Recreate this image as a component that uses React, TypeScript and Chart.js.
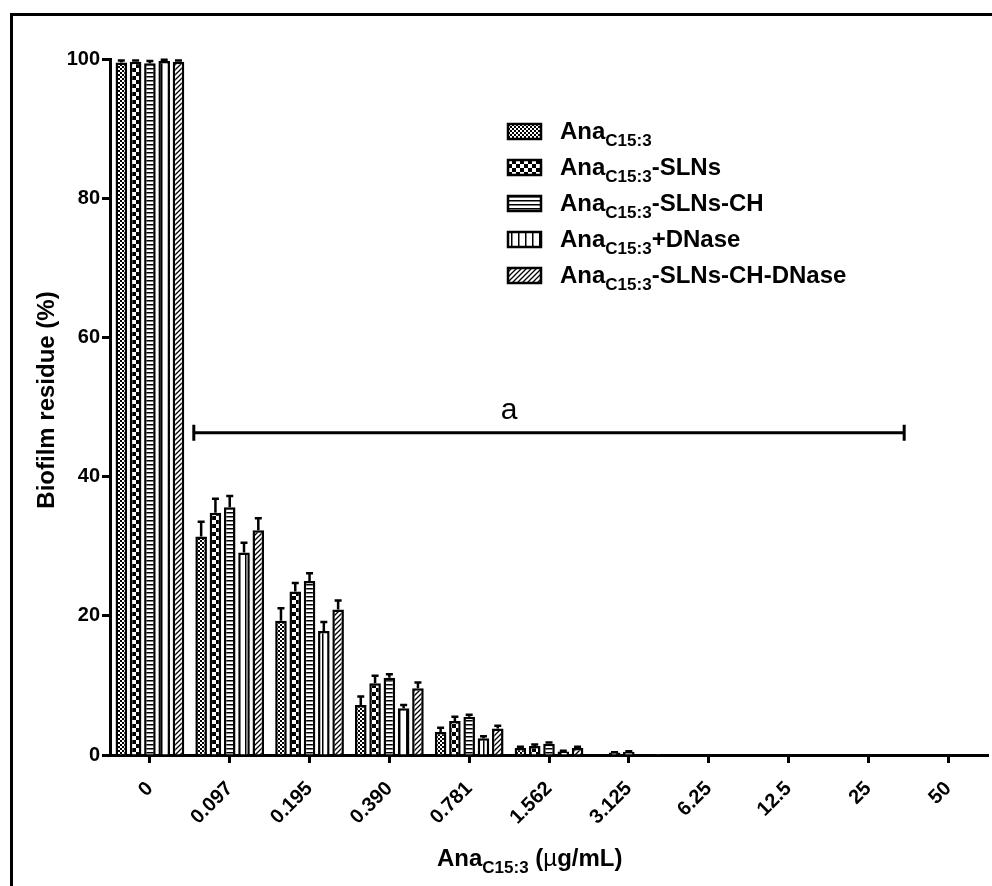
import { useEffect, useRef } from "react";
import { Chart, registerables } from "chart.js";

Chart.register(...registerables);

const FONT = "Arial, 'Liberation Sans', Helvetica, sans-serif";

// ---- data ----
const categories = ["0", "0.097", "0.195", "0.390", "0.781", "1.562", "3.125", "6.25", "12.5", "25", "50"];
const seriesPrefix = "Ana";
const seriesSub = "C15:3";
const seriesSuffixes = ["", "-SLNs", "-SLNs-CH", "+DNase", "-SLNs-CH-DNase"];

const anaC153 = [99.5, 31.4, 19.3, 7.2, 3.3, 1.0, 0.05, 0, 0, 0, 0];
const anaSLNs = [99.6, 34.8, 23.5, 10.3, 4.9, 1.3, 0.35, 0, 0, 0, 0];
const anaSLNsCH = [99.4, 35.6, 25.0, 11.1, 5.5, 1.6, 0.45, 0, 0, 0, 0];
const anaDNase = [99.7, 29.1, 17.8, 6.7, 2.4, 0.5, 0.05, 0, 0, 0, 0];
const anaSLNsCHDNase = [99.6, 32.3, 20.9, 9.6, 3.8, 1.0, 0.15, 0, 0, 0, 0];

const errC153 = [0.3, 2.1, 1.8, 1.2, 0.6, 0.2, 0, 0, 0, 0, 0];
const errSLNs = [0.2, 2.0, 1.2, 1.1, 0.6, 0.2, 0.05, 0, 0, 0, 0];
const errSLNsCH = [0.3, 1.6, 1.1, 0.5, 0.3, 0.2, 0.1, 0, 0, 0, 0];
const errDNase = [0.2, 1.4, 1.3, 0.5, 0.3, 0.1, 0, 0, 0, 0, 0];
const errSLNsCHDNase = [0.2, 1.7, 1.3, 0.8, 0.4, 0.2, 0, 0, 0, 0, 0];

const yTickValues = [0, 20, 40, 60, 80, 100];
const yTitle = "Biofilm residue (%)";
const xTitleParts = [
  { t: "Ana" },
  { t: "C15:3", sub: true },
  { t: " (" },
  { t: "\u00b5", thin: true },
  { t: "g/mL)" },
];
const bracketFrom = 0.55;
const bracketTo = 9.45;
const bracketValue = 46.3;
const bracketLabel = "a";
const bracketLabelAt = 4.5;

const seriesValues = [anaC153, anaSLNs, anaSLNsCH, anaDNase, anaSLNsCHDNase];
const seriesErrors = [errC153, errSLNs, errSLNsCH, errDNase, errSLNsCHDNase];
const patternKinds = ["fine", "checker", "hlines", "vlines", "diag"];

function makePattern(kind: string): CanvasPattern | string {
  const c = document.createElement("canvas");
  const ctx = c.getContext("2d");
  if (!ctx) return "#fff";
  if (kind === "fine") {
    c.width = 4; c.height = 4;
    ctx.fillStyle = "#fff"; ctx.fillRect(0, 0, 4, 4);
    ctx.fillStyle = "#000";
    ctx.fillRect(0, 0, 2, 2); ctx.fillRect(2, 2, 2, 2);
  } else if (kind === "checker") {
    c.width = 8; c.height = 8;
    ctx.fillStyle = "#fff"; ctx.fillRect(0, 0, 8, 8);
    ctx.fillStyle = "#000";
    ctx.fillRect(0, 0, 4, 4); ctx.fillRect(4, 4, 4, 4);
  } else if (kind === "hlines") {
    c.width = 4; c.height = 4;
    ctx.fillStyle = "#fff"; ctx.fillRect(0, 0, 4, 4);
    ctx.fillStyle = "#000"; ctx.fillRect(0, 0, 4, 1.5);
  } else if (kind === "vlines") {
    c.width = 7; c.height = 7;
    ctx.fillStyle = "#fff"; ctx.fillRect(0, 0, 7, 7);
    ctx.fillStyle = "#000"; ctx.fillRect(0, 0, 1.5, 7);
  } else {
    c.width = 5; c.height = 5;
    ctx.fillStyle = "#fff"; ctx.fillRect(0, 0, 5, 5);
    ctx.strokeStyle = "#000"; ctx.lineWidth = 1.3;
    ctx.beginPath();
    ctx.moveTo(-1, 6); ctx.lineTo(6, -1);
    ctx.moveTo(-1, 1); ctx.lineTo(1, -1);
    ctx.moveTo(4, 6); ctx.lineTo(6, 4);
    ctx.stroke();
  }
  const p = ctx.createPattern(c, "repeat");
  return p || "#fff";
}

type Part = { t: string; sub?: boolean; thin?: boolean };

function drawParts(ctx: CanvasRenderingContext2D, x: number, y: number, parts: Part[], size: number, subSize: number) {
  let cx = x;
  ctx.textAlign = "left";
  ctx.textBaseline = "alphabetic";
  for (const p of parts) {
    const fs = p.sub ? subSize : size;
    ctx.font = `${p.thin ? "" : "bold "}${fs}px ${FONT}`;
    const dy = p.sub ? Math.round(size * 0.28) : 0;
    ctx.fillText(p.t, cx, y + dy);
    cx += ctx.measureText(p.t).width;
  }
}

export default function App() {
  const ref = useRef<HTMLCanvasElement | null>(null);

  useEffect(() => {
    document.body.style.margin = "0";
    const canvas = ref.current;
    if (!canvas) return;
    const patterns = patternKinds.map((k) => makePattern(k));

    const overlay = {
      id: "overlay",
      beforeDraw(chart: any) {
        const ctx = chart.ctx as CanvasRenderingContext2D;
        ctx.save();
        ctx.fillStyle = "#fff";
        ctx.fillRect(0, 0, chart.width, chart.height);
        ctx.strokeStyle = "#000";
        ctx.lineWidth = 3;
        ctx.strokeRect(11.5, 14.5, chart.width + 40, chart.height + 40);
        ctx.restore();
      },
      afterDatasetsDraw(chart: any) {
        const ctx = chart.ctx as CanvasRenderingContext2D;
        const yScale = chart.scales.y;
        ctx.save();
        ctx.strokeStyle = "#000";
        ctx.lineWidth = 2.5;
        seriesValues.forEach((vals, i) => {
          const meta = chart.getDatasetMeta(i);
          meta.data.forEach((bar: any, j: number) => {
            const e = seriesErrors[i][j];
            if (!e) return;
            const y0 = yScale.getPixelForValue(vals[j]);
            const y1 = yScale.getPixelForValue(vals[j] + e);
            ctx.beginPath();
            ctx.moveTo(bar.x, y0);
            ctx.lineTo(bar.x, y1);
            ctx.moveTo(bar.x - 3.5, y1);
            ctx.lineTo(bar.x + 3.5, y1);
            ctx.stroke();
          });
        });
        ctx.restore();
      },
      afterDraw(chart: any) {
        const ctx = chart.ctx as CanvasRenderingContext2D;
        const xs = chart.scales.x;
        const ys = chart.scales.y;
        ctx.save();
        ctx.fillStyle = "#000";
        ctx.strokeStyle = "#000";

        // bracket
        const bx0 = xs.getPixelForValue(bracketFrom);
        const bx1 = xs.getPixelForValue(bracketTo);
        const by = ys.getPixelForValue(bracketValue);
        ctx.lineWidth = 3;
        ctx.beginPath();
        ctx.moveTo(bx0, by); ctx.lineTo(bx1, by);
        ctx.moveTo(bx0, by - 8); ctx.lineTo(bx0, by + 8);
        ctx.moveTo(bx1, by - 8); ctx.lineTo(bx1, by + 8);
        ctx.stroke();
        ctx.font = `30px ${FONT}`;
        ctx.textAlign = "center";
        ctx.textBaseline = "alphabetic";
        ctx.fillText(bracketLabel, xs.getPixelForValue(bracketLabelAt), by - 14);

        // legend
        const lx = 508, tx = 560;
        seriesSuffixes.forEach((suf, i) => {
          const base = 139 + 36 * i;
          ctx.fillStyle = patterns[i] as any;
          ctx.fillRect(lx, base - 15, 33, 15);
          ctx.lineWidth = 2.5;
          ctx.strokeStyle = "#000";
          ctx.strokeRect(lx, base - 15, 33, 15);
          ctx.fillStyle = "#000";
          drawParts(ctx, tx, base, [{ t: seriesPrefix }, { t: seriesSub, sub: true }, { t: suf }], 24, 17);
        });

        // x title
        drawParts(ctx, 437, 866, xTitleParts, 24, 17);

        // y title
        ctx.save();
        ctx.translate(47, 400);
        ctx.rotate(-Math.PI / 2);
        ctx.font = `bold 24px ${FONT}`;
        ctx.textAlign = "center";
        ctx.textBaseline = "middle";
        ctx.fillText(yTitle, 0, 0);
        ctx.restore();

        ctx.restore();
      },
    };

    const chart = new Chart(canvas, {
      type: "bar",
      data: {
        labels: categories,
        datasets: seriesValues.map((vals, i) => ({
          label: seriesPrefix + seriesSub + seriesSuffixes[i],
          data: vals,
          backgroundColor: patterns[i] as any,
          borderColor: "#000",
          borderWidth: 2.5,
          borderSkipped: "start",
          categoryPercentage: 0.895,
          barPercentage: 0.81,
        })),
      },
      options: {
        responsive: false,
        animation: false,
        layout: { padding: { top: 59, right: 4, left: 0, bottom: 0 } },
        plugins: { legend: { display: false }, tooltip: { enabled: false } },
        scales: {
          x: {
            offset: true,
            grid: { offset: false, drawOnChartArea: false, drawTicks: true, tickLength: 8, tickWidth: 3, tickColor: "#000", color: "#000" },
            border: { display: true, color: "#000", width: 3 },
            ticks: { color: "#000", font: { family: FONT, size: 20, weight: "bold" }, maxRotation: 45, minRotation: 45, autoSkip: false, padding: 14 },
            afterFit: (s: any) => { s.height = 131; },
          },
          y: {
            min: 0,
            max: 100,
            grid: { drawOnChartArea: false, drawTicks: true, tickLength: 8, tickWidth: 3, tickColor: "#000", color: "#000" },
            border: { display: true, color: "#000", width: 3 },
            ticks: { color: "#000", font: { family: FONT, size: 20, weight: "bold" }, padding: 2 },
            afterBuildTicks: (s: any) => { s.ticks = yTickValues.map((v) => ({ value: v })); },
            afterFit: (s: any) => { s.width = 110; },
          },
        },
      },
      plugins: [overlay],
    } as any);

    return () => chart.destroy();
  }, []);

  return <canvas ref={ref} width={992} height={886} style={{ display: "block" }} />;
}
